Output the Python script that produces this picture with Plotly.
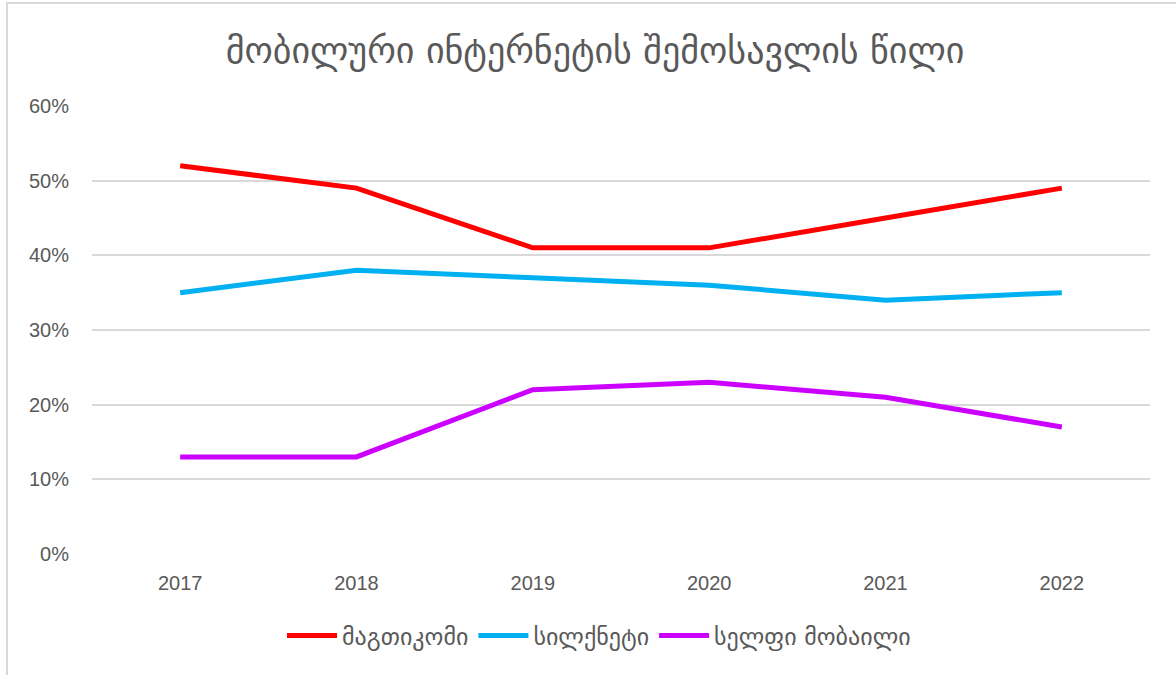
import plotly.graph_objects as go

years = ["2017", "2018", "2019", "2020", "2021", "2022"]
magti = [0.52, 0.49, 0.41, 0.41, 0.45, 0.49]
silknet = [0.35, 0.38, 0.37, 0.36, 0.34, 0.35]
cellfie = [0.13, 0.13, 0.22, 0.23, 0.21, 0.17]
names = ["მაგთიკომი", "სილქნეტი", "სელფი მობაილი"]
colors = ["#FF0000", "#00B0F0", "#CC00FF"]
title = "მობილური ინტერნეტის შემოსავლის წილი"

fig = go.Figure()
for vals, name, c in zip([magti, silknet, cellfie], names, colors):
    fig.add_trace(go.Scatter(x=years, y=vals, name=name, mode="lines",
                             line=dict(color=c, width=5)))

W, H = 1176, 675
l, r, t, b = 92, 26, 106, 121
pw, ph = W - l - r, H - t - b

fig.update_layout(
    width=W, height=H,
    margin=dict(l=l, r=r, t=t, b=b, autoexpand=False),
    paper_bgcolor="white", plot_bgcolor="white",
    title=dict(text=title, x=595 / W, xref="container", xanchor="center",
               y=1 - 50 / H, yanchor="middle",
               font=dict(family="DejaVu Sans", size=36, color="#595959")),
    xaxis=dict(type="category", range=[-0.5, 5.5], showgrid=False,
               showline=False, ticks="outside", ticklen=11,
               tickcolor="rgba(0,0,0,0)", zeroline=False,
               tickfont=dict(family="Liberation Sans", size=20, color="#595959")),
    yaxis=dict(range=[0, 0.6], dtick=0.1, tickformat=".0%",
               showgrid=True, gridcolor="#D9D9D9", gridwidth=2,
               zeroline=False, showline=False, ticks="outside", ticklen=18,
               tickcolor="rgba(0,0,0,0)",
               tickfont=dict(family="Liberation Sans", size=20, color="#595959")),
    legend=dict(orientation="h", x=(599 - l) / pw, xanchor="center",
                y=(554 - 636) / ph, yanchor="middle", traceorder="normal",
                font=dict(family="DejaVu Sans", size=24, color="#595959"),
                itemwidth=50),
    shapes=[dict(type="rect", xref="paper", yref="paper",
                 x0=(7 - l) / pw, x1=(W + 20 - l) / pw,
                 y0=(554 - (H + 20)) / ph, y1=(554 - 3) / ph,
                 line=dict(color="#D9D9D9", width=2), layer="below")],
)

fig.write_html("out.html", config={"displayModeBar": False},
               post_script="document.body.style.margin='0';")
